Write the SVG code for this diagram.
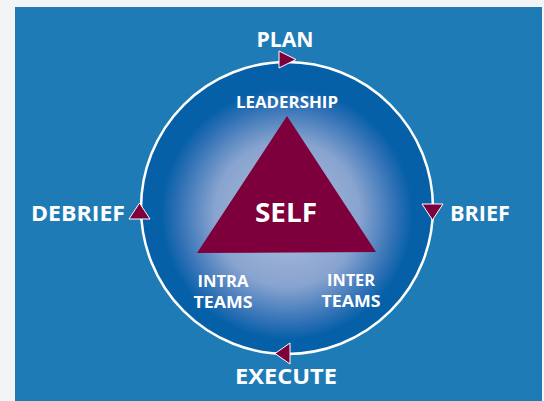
<svg xmlns="http://www.w3.org/2000/svg" width="544" height="401" viewBox="0 0 544 401">
  <defs>
    <radialGradient id="glow" gradientUnits="userSpaceOnUse" cx="287" cy="214" r="146">
      <stop offset="0" stop-color="#b3c2de"/>
      <stop offset="0.5" stop-color="#87a3cf"/>
      <stop offset="0.75" stop-color="#2f70b5"/>
      <stop offset="0.86" stop-color="#0560a8"/>
      <stop offset="1" stop-color="#0560a8"/>
    </radialGradient>
    <style>
      .big { font-family: "Open Sans", "Liberation Sans", sans-serif; font-weight: bold; font-size: 21px; fill: #ffffff; }
      .small { font-family: "Open Sans", "Liberation Sans", sans-serif; font-weight: bold; font-size: 16px; fill: #ffffff; text-anchor: middle; }
      .arrow { fill: #7d003c; stroke: #ffffff; stroke-width: 1; stroke-linejoin: miter; }
    </style>
  </defs>
  <rect x="0" y="0" width="544" height="401" fill="#f3f4f6"/>
  <rect x="15" y="7" width="527" height="394" fill="#1f7bb6"/>

  <g id="connectors">
    <circle cx="287" cy="208" r="146" fill="url(#glow)" stroke="#ffffff" stroke-width="2.5"/>
    <polygon class="arrow" points="279,51 279,68 296,59.5"/>
    <polygon class="arrow" points="422,204 443,204 432.5,220"/>
    <polygon class="arrow" points="290,343 290,364 275,353.5"/>
    <polygon class="arrow" points="129,219 150,219 139.5,203"/>
  </g>

  <g id="self">
    <polygon points="287,116 197,253 376,252" fill="#7d003c"/>
    <text x="286" y="222" font-family="Open Sans, Liberation Sans, sans-serif" font-weight="bold" font-size="26" fill="#ffffff" text-anchor="middle" textLength="62" lengthAdjust="spacingAndGlyphs">SELF</text>
  </g>
  <g id="leadership"><text class="small" x="287" y="108" textLength="102" lengthAdjust="spacingAndGlyphs">LEADERSHIP</text></g>
  <g id="intra-teams">
    <text class="small" x="223" y="287" textLength="51" lengthAdjust="spacingAndGlyphs">INTRA</text>
    <text class="small" x="223" y="308" textLength="59" lengthAdjust="spacingAndGlyphs">TEAMS</text>
  </g>
  <g id="inter-teams">
    <text class="small" x="351" y="286" textLength="48" lengthAdjust="spacingAndGlyphs">INTER</text>
    <text class="small" x="351" y="307" textLength="59" lengthAdjust="spacingAndGlyphs">TEAMS</text>
  </g>
  <g id="plan"><text class="big" x="285" y="47" text-anchor="middle" textLength="57" lengthAdjust="spacingAndGlyphs">PLAN</text></g>
  <g id="brief"><text class="big" x="450" y="221" textLength="60" lengthAdjust="spacingAndGlyphs">BRIEF</text></g>
  <g id="execute"><text class="big" x="286" y="384" text-anchor="middle" textLength="102" lengthAdjust="spacingAndGlyphs">EXECUTE</text></g>
  <g id="debrief"><text class="big" x="31" y="221" textLength="94" lengthAdjust="spacingAndGlyphs">DEBRIEF</text></g>
</svg>
